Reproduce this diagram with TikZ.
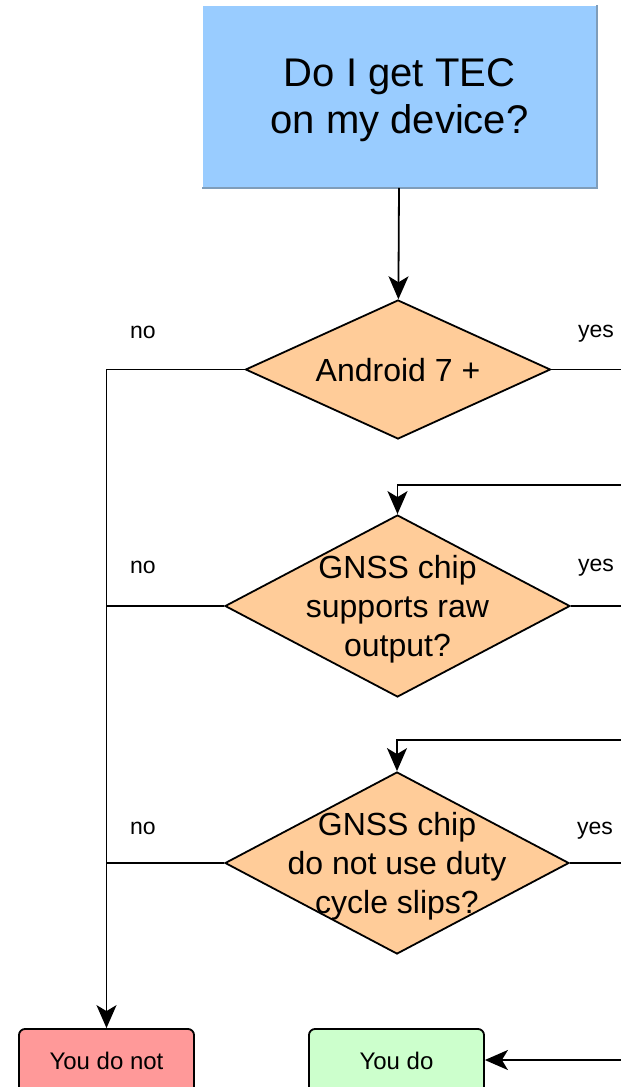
\documentclass[tikz,border=0pt]{standalone}
\usepackage{fontspec}
\setmainfont{Liberation Sans}
\usetikzlibrary{shapes.geometric}
\usetikzlibrary{arrows.meta}
\usetikzlibrary{positioning}

\definecolor{qblue}{HTML}{99CCFF}
\definecolor{qedge}{HTML}{7F9DBA}
\definecolor{qpeach}{HTML}{FFCC99}
\definecolor{qred}{HTML}{FF9999}
\definecolor{qgreen}{HTML}{CCFFCC}

\tikzset{
  question/.style={fill=qblue, minimum width=393bp, minimum height=181bp, inner sep=0pt,
    align=center, text depth=0bp, font=\fontsize{40bp}{47bp}\selectfont},
  decision/.style={diamond, draw, fill=qpeach, inner sep=0pt},
  dtext/.style={align=center, text depth=0bp, font=\fontsize{32bp}{39bp}\selectfont},
  result/.style={draw, rounded corners=6bp, minimum width=175bp, minimum height=64bp,
    font=\fontsize{24bp}{28bp}\selectfont},
  answer/.style={font=\fontsize{23bp}{27bp}\selectfont},
}

\begin{document}
\begin{tikzpicture}[x=1bp, y=-1bp, line width=1.8bp,
  >={Stealth[length=23bp, width=20bp, inset=6bp]}]
\useasboundingbox (0,0) rectangle (621,1087);

\node [question] (top) at (399.5,96.5) {Do I get TEC\\on my device?};
\draw [qedge, line width=2bp] (top.north east) -- (top.south east) -- (top.south west);

\node [decision, minimum width=305bp, minimum height=139bp,
  label={[dtext]center:{Android 7 +}}] (d_1) at (398,369.5) {};
\node [decision, minimum width=345bp, minimum height=182bp,
  label={[dtext]center:{GNSS chip\\supports raw\\output?}}] (d_2) at (397.5,606) {};
\node [decision, minimum width=344bp, minimum height=182bp,
  label={[dtext]center:{GNSS chip\\do not use duty\\cycle slips?}}] (d_3) at (397,863) {};

\node [result, fill=qred] (r_no) at (106.5,1061) {You do not};
\node [result, fill=qgreen] (r_yes) at (396.5,1061) {You do};

% answers
\node [answer] (n_1) at (143,332) {no};
\node [answer] (y_1) at (596,334) {yes};
\node [answer] (n_2) at (143,567) {no};
\node [answer] (y_2) at (596,568) {yes};
\node [answer] (n_3) at (143,828) {no};
\node [answer] (y_3) at (595,831) {yes};

% right rim, where the lines leave the picture
\coordinate (e_1) at (621,369.5);
\coordinate (e_2) at (621,606);
\coordinate (e_3) at (621,863);
\coordinate (b_1) at (621,485);
\coordinate (b_2) at (621,740);
\coordinate (b_3) at (621,1060);

\draw [->] (top) -- (d_1);
\draw [->] (d_1.west) -| (r_no.north);
\draw (d_2.west) -- (d_2.west -| r_no.north);
\draw (d_3.west) -- (d_3.west -| r_no.north);
\draw (d_1.east) -- (e_1);
\draw (d_2.east) -- (e_2);
\draw (d_3.east) -- (e_3);
\draw [->] (b_1) -| (d_2.north);
\draw [->] (b_2) -| (d_3.north);
\draw [->] (b_3) -- (b_3 -| r_yes.east);

\end{tikzpicture}
\end{document}
